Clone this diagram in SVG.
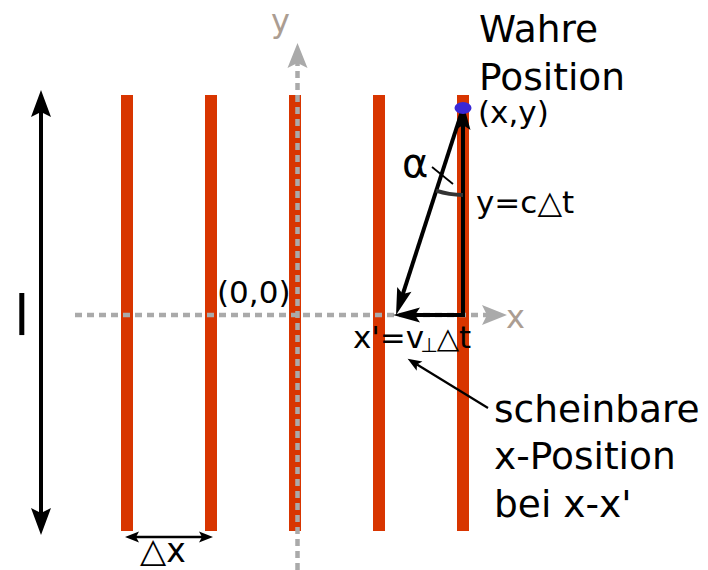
<svg xmlns="http://www.w3.org/2000/svg" width="708" height="570" viewBox="0 0 708 570">
<style>
.bar{fill:#d83500}
.ax{stroke:#aaaaaa;stroke-width:4.5;stroke-dasharray:7,5;fill:none}
.axl{fill:#ab9d92;font-family:"DejaVu Sans",sans-serif;font-size:32px}
.t{font-family:"DejaVu Sans",sans-serif;fill:#000}
.big{font-size:37.5px}
.mid{font-size:31px}
.tri{font-size:32px}
.blk{stroke:#000;fill:none}
</style>
<defs>
<marker id="hgray" markerUnits="userSpaceOnUse" orient="auto" overflow="visible" refX="0" refY="0" markerWidth="1" markerHeight="1">
<path d="M-5,-10 L20,0 L-5,10 L0,0 Z" fill="#aaaaaa"/>
</marker>
<marker id="hbig" markerUnits="userSpaceOnUse" orient="auto-start-reverse" overflow="visible" refX="0" refY="0" markerWidth="1" markerHeight="1">
<path d="M-5,-10 L22,0 L-5,10 L0,0 Z" fill="#000"/>
</marker>
<marker id="hmed" markerUnits="userSpaceOnUse" orient="auto" overflow="visible" refX="0" refY="0" markerWidth="1" markerHeight="1">
<path d="M-5,-7.5 L22,0 L-5,7.5 L0,0 Z" fill="#000"/>
</marker>
<marker id="hsm" markerUnits="userSpaceOnUse" orient="auto-start-reverse" overflow="visible" refX="0" refY="0" markerWidth="1" markerHeight="1">
<path d="M-3,-5.5 L11,0 L-3,5.5 L0,0 Z" fill="#000"/>
</marker>
</defs>

<g id="bars">
<rect class="bar" x="121" y="95" width="12" height="436"/>
<rect class="bar" x="205" y="95" width="12" height="436"/>
<rect class="bar" x="289" y="95" width="12" height="436"/>
<rect class="bar" x="373" y="95" width="12" height="436"/>
<rect class="bar" x="457" y="95" width="12" height="436"/>
</g>

<g id="axes">
<line class="ax" x1="297.5" y1="570" x2="297.5" y2="63" marker-end="url(#hgray)"/>
<line class="ax" x1="75" y1="315" x2="487" y2="315" marker-end="url(#hgray)"/>
<text class="axl" x="271" y="32">y</text>
<text class="axl" x="506" y="328">x</text>
</g>

<g id="connectors">
<line class="blk" stroke-width="4" x1="41" y1="112" x2="41" y2="513" marker-start="url(#hbig)" marker-end="url(#hbig)"/>
<line class="blk" stroke-width="2.5" x1="136" y1="537" x2="202" y2="537" marker-start="url(#hsm)" marker-end="url(#hsm)"/>
<line class="blk" stroke-width="4" x1="463" y1="316" x2="463" y2="125" marker-end="url(#hmed)"/>
<line class="blk" stroke-width="4" x1="465" y1="315" x2="415" y2="315" marker-end="url(#hmed)"/>
<line class="blk" stroke-width="4" x1="463" y1="108" x2="402.8" y2="294.1" marker-end="url(#hmed)"/>
<line class="blk" stroke-width="2.2" x1="488" y1="408" x2="417" y2="364.5" marker-end="url(#hsm)"/>
</g>

<g id="angle">
<path d="M436.1,190.7 A87,87 0 0 0 463,195" stroke="#333" stroke-width="4" fill="none"/>
<line x1="432" y1="167" x2="453" y2="184" stroke="#000" stroke-width="1.8"/>
<text class="t" x="402" y="177" font-size="40">α</text>
</g>

<g id="true-position">
<ellipse cx="463" cy="108" rx="8.5" ry="6" fill="#3a28d6"/>
<text class="t big" x="479" y="42">Wahre</text>
<text class="t big" x="479" y="90">Position</text>
<text class="t mid" x="478" y="123">(x,y)</text>
</g>

<g id="labels">
<text class="t mid" x="476" y="213">y=c<tspan class="tri">△</tspan>t</text>
<text class="t mid" x="353" y="348">x'=v<tspan font-size="20" dx="-4" dy="4">⊥</tspan><tspan font-size="29" dx="-1" dy="-4">△</tspan>t</text>
<text class="t mid" x="217" y="303">(0,0)</text>
<text class="t" x="14" y="335" font-size="56">l</text>
<text class="t" x="140" y="562" font-size="33"><tspan font-size="34">△</tspan>x</text>
</g>

<g id="apparent-position">
<text class="t big" x="494" y="422">scheinbare</text>
<text class="t big" x="494" y="469">x-Position</text>
<text class="t big" x="494" y="517">bei x-x'</text>
</g>
</svg>
